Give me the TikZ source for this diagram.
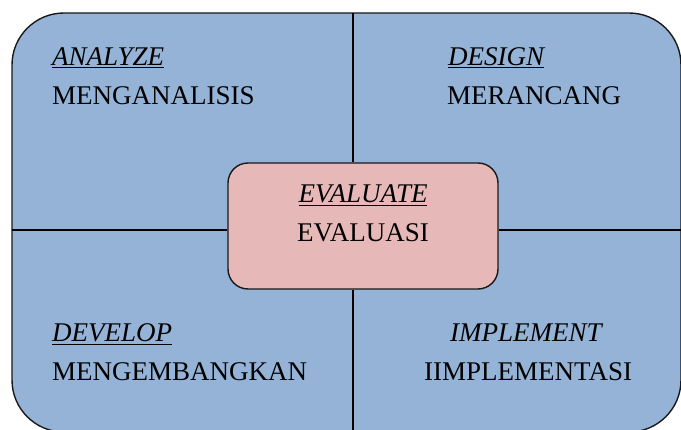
\documentclass[tikz,border=0pt]{standalone}
\usepackage{fontspec}
\setmainfont{Liberation Serif}
\definecolor{quadblue}{HTML}{95B3D7}
\definecolor{centerpink}{HTML}{E6B9B8}
\newcommand{\ulab}[1]{\underline{#1}}
\begin{document}
\begin{tikzpicture}[x=1pt,y=-1pt,
  outerbox/.style={draw=black!90,line width=1.4pt,fill=quadblue,rounded corners=52pt,inner sep=0pt},
  centerbox/.style={draw=black!90,line width=1.4pt,fill=centerpink,rounded corners=20pt,inner sep=0pt},
  divider/.style={draw=black,line width=1.3pt},
  lbl/.style={inner sep=0pt,font=\fontsize{27}{31}\selectfont,text=black},
  en/.style={lbl,font=\fontsize{27}{31}\selectfont\itshape}
]
\useasboundingbox (0,0) rectangle (681,430);
\clip (0,0) rectangle (681,430);
\node[outerbox,minimum width=669pt,minimum height=419pt] (outer) at (346.5,222.5) {};
\node[centerbox,minimum width=270pt,minimum height=126pt] (ev) at (363,226) {};
\coordinate (vt) at (353,13);
\coordinate (vb) at (353,432);
\coordinate (hl) at (12,230);
\coordinate (hr) at (681,230);
\draw[divider] (vt) -- (vt |- ev.north);
\draw[divider] (vb |- ev.south) -- (vb);
\draw[divider] (hl) -- (hl -| ev.west);
\draw[divider] (hl -| ev.east) -- (hr);
% top-left
\node[en,anchor=base west] (a1) at (52,66) {\ulab{ANALYZE}};
\node[lbl,anchor=base west] (a2) at (52,105) {MENGANALISIS};
% top-right
\node[en,anchor=base west] (d1) at (448,66) {\ulab{DESIGN}};
\node[lbl,anchor=base west] (d2) at (447,105) {MERANCANG};
% center
\node[en,anchor=base] (e1) at (363,203) {\ulab{EVALUATE}};
\node[lbl,anchor=base] (e2) at (363,242) {EVALUASI};
% bottom-left
\node[en,anchor=base west] (v1) at (52,342) {\ulab{DEVELOP}};
\node[lbl,anchor=base west] (v2) at (52,381) {MENGEMBANGKAN};
% bottom-right
\node[en,anchor=base west] (i1) at (450,342) {IMPLEMENT};
\node[lbl,anchor=base west] (i2) at (424,381) {IIMPLEMENTASI};
\end{tikzpicture}
\end{document}
